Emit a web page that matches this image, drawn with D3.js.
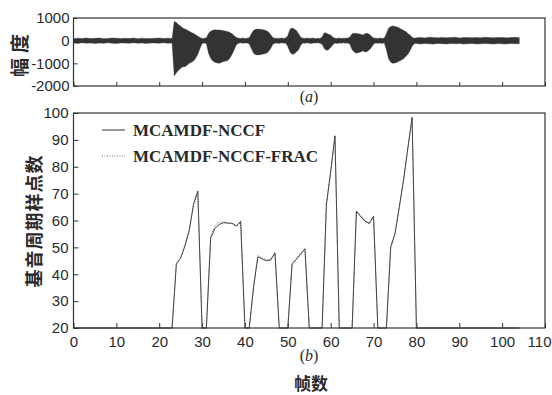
<!DOCTYPE html>
<html>
<head>
<meta charset="utf-8">
<script src="https://cdn.jsdelivr.net/npm/d3@7"></script>
<style>
  body { margin: 0; background: #fff; }
  svg { display: block; }
  .tick text { font-family: "Liberation Sans", Arial, sans-serif; font-size: 15px; fill: #2a2a2a; }
  .tick line { stroke: #333; }
  .frame { fill: none; stroke: #333; stroke-width: 1.2; }
</style>
</head>
<body>
<svg id="chart" width="552" height="395"></svg>
<script>
// ---- data ----
// (a) speech waveform envelope: frame position, upper and lower amplitude
var waveX = [
  0,1,2,3,4,5,6,7,8,9,10,11,12,13,14,15,16,17,18,19,20,21,22,23,
  23.5,24,24.5,25,25.5,26,26.5,27,27.5,28,28.5,29,29.5,30,
  30.5,31,
  31.5,32,32.5,33,33.5,34,34.5,35,35.5,36,36.5,37,37.5,38,
  38.5,39,39.5,40,40.5,41,
  41.5,42,42.5,43,43.5,44,44.5,45,45.5,46,46.5,
  47,47.5,48,48.5,49,49.5,
  50,50.5,51,51.5,52,52.5,53,
  53.5,54,54.5,55,55.5,56,56.5,57,57.5,
  58,58.5,59,59.5,60,60.5,
  61,61.5,62,62.5,63,63.5,64,
  64.5,65,65.5,66,66.5,67,67.5,68,68.5,69,69.5,70,
  70.5,71,71.5,72,72.5,
  73,73.5,74,74.5,75,75.5,76,76.5,77,77.5,78,78.5,79,79.5,
  80,81,82,83,84,85,86,87,88,89,90,91,92,93,94,95,96,97,98,99,100,101,102,103,104
];
var waveHi = [
  90,110,100,120,95,105,115,90,100,120,110,95,105,100,115,90,110,100,95,105,120,100,110,95,
  850,800,700,640,560,520,470,420,360,320,260,200,140,100,
  110,120,
  320,420,460,480,470,470,460,440,420,400,360,300,220,140,
  110,100,120,95,110,130,
  300,450,500,510,500,490,470,440,380,260,140,
  100,110,95,120,100,115,
  220,500,560,520,450,300,150,
  110,95,120,100,105,115,90,110,100,
  160,350,330,280,250,150,
  110,100,120,95,110,105,115,
  160,300,330,320,300,280,250,300,330,280,200,120,
  110,95,120,100,115,
  300,550,620,650,630,600,560,500,450,400,320,250,150,110,
  130,140,120,150,135,125,145,130,140,155,120,135,145,130,140,125,150,135,130,145,140,125,135,150,130
];
var waveLo = [
  -100,-120,-95,-110,-105,-125,-100,-115,-95,-110,-120,-100,-105,-115,-95,-110,-100,-120,-105,-100,-110,-95,-115,-105,
  -1550,-1420,-1300,-1220,-1150,-1150,-1080,-1000,-950,-900,-780,-600,-350,-130,
  -100,-120,
  -550,-780,-900,-950,-980,-1000,-960,-920,-900,-870,-760,-600,-400,-180,
  -110,-95,-115,-105,-100,-140,
  -350,-550,-620,-630,-620,-600,-580,-550,-480,-350,-160,
  -110,-100,-120,-95,-110,-105,
  -260,-500,-600,-580,-500,-400,-200,
  -100,-115,-95,-110,-120,-100,-105,-95,-115,
  -160,-350,-420,-400,-300,-180,
  -105,-120,-100,-110,-95,-115,-100,
  -160,-400,-500,-560,-520,-500,-450,-500,-480,-400,-300,-150,
  -100,-115,-105,-120,-95,
  -400,-800,-950,-1000,-980,-950,-900,-850,-800,-700,-600,-450,-250,-130,
  -130,-145,-125,-140,-150,-120,-135,-145,-130,-140,-125,-150,-135,-130,-145,-140,-125,-135,-150,-130,-140,-145,-125,-135,-140
];

// (b) pitch period (samples) per frame 0..104
var pitchNCCF = [
  20,20,20,20,20,20,20,20,20,20,20,20,20,20,20,20,20,20,20,20,20,20,20,
  20,44,46,50.5,56.3,66,71,20,
  20,53.5,57,58.5,59.2,59,59,58,59.7,20,
  20,35,46.5,45.7,45,45.3,48,20,
  20,20,44,45.5,47.5,49.5,20,
  20,20,20,66,78,91.5,20,
  20,20,20,63.5,61.5,59.7,59,61.6,20,
  20,20,50,55,65,75,87,98.4,20,
  20,20,20,20,20,20,20,20,20,20,20,20,20,20,20,20,20,20,20,20,20,20,20,20,
];
var pitchFRAC = [
  20,20,20,20,20,20,20,20,20,20,20,20,20,20,20,20,20,20,20,20,20,20,20,
  20,43.6,46.3,50.8,56.6,65.7,70.6,20,
  20,54.1,58,59.3,59.5,59.2,58.8,57.6,59.4,20,
  20,35.4,46.9,46.1,45.3,45.6,47.7,20,
  20,20,43.7,45.9,47.8,49.2,20,
  20,20,20,65.6,78.4,91.2,20,
  20,20,20,63.1,61.9,60.2,58.6,61.3,20,
  20,20,50.4,55.4,64.6,75.3,86.6,98.1,20,
  20,20,20,20,20,20,20,20,20,20,20,20,20,20,20,20,20,20,20,20,20,20,20,20,
];

var xTicks = [0,10,20,30,40,50,60,70,80,90,100,110];
var ampTicks = [-2000,-1000,0,1000];
var pitchTicks = [20,30,40,50,60,70,80,90,100];
var legendNames = ['MCAMDF-NCCF', 'MCAMDF-NCCF-FRAC'];

// ---- layout ----
var svg = d3.select('#chart');
var L = 73.5, R = 545;
var x = d3.scaleLinear().domain([0, 110]).range([L, R]);

// ================= (a) waveform =================
var yA = d3.scaleLinear().domain([-2000, 1000]).range([86, 18]);

var wave = waveX.map(function(f, i) { return { f: f, hi: waveHi[i], lo: waveLo[i] }; });

svg.append('path')
  .datum(wave)
  .attr('d', d3.area()
    .x(function(d) { return x(d.f); })
    .y0(function(d) { return yA(d.lo); })
    .y1(function(d) { return yA(d.hi); }))
  .attr('fill', '#333')
  .attr('stroke', '#333')
  .attr('stroke-width', 0.4);

svg.append('g')
  .attr('transform', 'translate(0,86)')
  .call(d3.axisBottom(x).tickValues(xTicks).tickSizeInner(-4).tickSizeOuter(0).tickFormat(''))
  .call(function(g) { g.select('.domain').remove(); });

svg.append('g')
  .attr('transform', 'translate(' + L + ',0)')
  .call(d3.axisLeft(yA).tickValues(ampTicks).tickSizeInner(-4).tickSizeOuter(0).tickPadding(4)
    .tickFormat(function(d) { return d < 0 ? '-' + (-d) : d; }))
  .call(function(g) { g.select('.domain').remove(); });

svg.append('rect').attr('class', 'frame')
  .attr('x', L).attr('y', 18).attr('width', R - L).attr('height', 68);

svg.append('text')
  .attr('transform', 'translate(27,53) rotate(-90)')
  .attr('text-anchor', 'middle')
  .style('font-family', '"Noto Sans CJK SC", sans-serif')
  .style('font-size', '19px')
  .style('font-weight', 'bold')
  .style('letter-spacing', '5px')
  .attr('fill', '#2a2a2a')
  .text('幅度');

svg.append('text')
  .attr('x', 309).attr('y', 102)
  .attr('text-anchor', 'middle')
  .style('font-family', '"Liberation Serif", serif')
  .style('font-size', '16px')
  .attr('fill', '#2a2a2a')
  .html('(<tspan font-style="italic">a</tspan>)');

// ================= (b) pitch =================
var yB = d3.scaleLinear().domain([20, 100]).range([328, 113]);

svg.append('g')
  .attr('transform', 'translate(0,328)')
  .call(d3.axisBottom(x).tickValues(xTicks).tickSizeInner(-5).tickSizeOuter(0).tickPadding(8))
  .call(function(g) {
    g.select('.domain').remove();
    // last label sits against the page edge, as in the reference
    g.selectAll('.tick text').filter(function(d) { return d === 110; })
      .attr('text-anchor', 'end').attr('x', 6);
  });

svg.append('g')
  .attr('transform', 'translate(' + L + ',0)')
  .call(d3.axisLeft(yB).tickValues(pitchTicks).tickSizeInner(-5).tickSizeOuter(0).tickPadding(5))
  .call(function(g) { g.select('.domain').remove(); });

var line = d3.line()
  .x(function(d, i) { return x(i); })
  .y(function(d) { return yB(d); });

svg.append('path')
  .datum(pitchFRAC)
  .attr('d', line)
  .attr('fill', 'none')
  .attr('stroke', '#666')
  .attr('stroke-width', 1)
  .attr('stroke-dasharray', '1,1.5');

svg.append('path')
  .datum(pitchNCCF)
  .attr('d', line)
  .attr('fill', 'none')
  .attr('stroke', '#444')
  .attr('stroke-width', 1);

svg.append('rect').attr('class', 'frame')
  .attr('x', L).attr('y', 113).attr('width', R - L).attr('height', 215);

// legend
var legend = svg.append('g');
legendNames.forEach(function(name, i) {
  var ly = 130 + i * 26;
  legend.append('line')
    .attr('x1', 102).attr('x2', 125).attr('y1', ly).attr('y2', ly)
    .attr('stroke', i === 0 ? '#333' : '#777')
    .attr('stroke-width', 1)
    .attr('stroke-dasharray', i === 0 ? null : '1,1.5');
  legend.append('text')
    .attr('x', 133).attr('y', ly + 6)
    .style('font-family', '"Liberation Serif", serif')
    .style('font-size', '17px')
    .style('font-weight', 'bold')
    .attr('fill', '#2a2a2a')
    .text(name);
});

svg.append('text')
  .attr('transform', 'translate(41,221) rotate(-90)')
  .attr('text-anchor', 'middle')
  .style('font-family', '"Noto Sans CJK SC", sans-serif')
  .style('font-size', '18px')
  .style('font-weight', 'bold')
  .style('letter-spacing', '1px')
  .attr('fill', '#2a2a2a')
  .text('基音周期样点数');

svg.append('text')
  .attr('x', 309).attr('y', 361)
  .attr('text-anchor', 'middle')
  .style('font-family', '"Liberation Serif", serif')
  .style('font-size', '16px')
  .attr('fill', '#2a2a2a')
  .html('(<tspan font-style="italic">b</tspan>)');

svg.append('text')
  .attr('x', 311).attr('y', 390)
  .attr('text-anchor', 'middle')
  .style('font-family', '"Noto Sans CJK SC", sans-serif')
  .style('font-size', '17px')
  .style('font-weight', 'bold')
  .attr('fill', '#2a2a2a')
  .text('帧数');
</script>
</body>
</html>
